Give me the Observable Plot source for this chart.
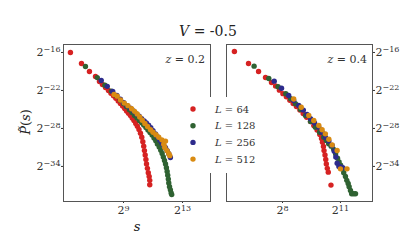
<!DOCTYPE html>
<html><head><meta charset="utf-8">
<script src="https://cdn.jsdelivr.net/npm/d3@7"></script>
<script src="https://cdn.jsdelivr.net/npm/@observablehq/plot@0.6"></script>
<style>
body{margin:0;background:#fff;}
#c{position:relative;width:415px;height:249px;overflow:hidden;}
#c svg{position:absolute;top:0;}
</style></head><body><div id="c"></div>
<script>
// ---- labels, colours, ticks ----
const seriesLabels = ["64","128","256","512"];
const seriesColors = ["#d62222","#2f6232","#2d2b8c","#d98b12"];
const panelLabels = ["0.2","0.4"];
const titleValue = "-0.5";
const yTicks = [-16,-22,-28,-34];
const xTicksLeft = [9,13];
const xTicksRight = [8,11];

// ---- data: [log2 s, log2 P~(s)] ----
// z = 0.2
const z02_L64 = [[5.40,-16.00],[6.15,-17.74],[6.69,-19.00],[7.10,-19.79],[7.37,-20.58],[7.57,-21.06],[7.78,-21.55],[7.98,-22.00],[8.15,-22.45],[8.32,-22.85],[8.48,-23.25],[8.64,-23.65],[8.79,-24.05],[8.94,-24.45],[9.08,-24.85],[9.21,-25.25],[9.34,-25.60],[9.47,-25.95],[9.59,-26.35],[9.71,-26.75],[9.83,-27.20],[9.94,-27.65],[10.05,-28.15],[10.15,-28.75],[10.24,-29.40],[10.31,-30.10],[10.37,-30.80],[10.42,-31.50],[10.47,-32.20],[10.52,-32.90],[10.56,-33.60],[10.62,-34.30],[10.68,-35.00],[10.74,-35.60],[10.78,-36.20],[10.78,-36.90]];
const z02_L128 = [[6.42,-18.21],[7.22,-19.97],[7.74,-21.18],[8.18,-22.10],[8.50,-22.85],[8.79,-23.55],[9.00,-24.05],[9.20,-24.55],[9.40,-25.05],[9.58,-25.50],[9.75,-25.95],[9.92,-26.35],[10.08,-26.75],[10.23,-27.10],[10.37,-27.45],[10.52,-27.85],[10.66,-28.25],[10.80,-28.65],[10.94,-29.05],[11.07,-29.50],[11.19,-29.95],[11.30,-30.45],[11.42,-30.95],[11.53,-31.45],[11.62,-31.95],[11.70,-32.50],[11.78,-33.05],[11.85,-33.60],[11.91,-34.20],[11.96,-34.80],[12.00,-35.40],[12.04,-36.00],[12.07,-36.60],[12.12,-37.20],[12.18,-37.70],[12.23,-38.20],[12.27,-38.45]];
const z02_L256 = [[7.49,-20.42],[7.90,-21.35],[8.27,-22.16],[8.55,-22.80],[8.79,-23.40],[9.02,-23.95],[9.25,-24.40],[9.47,-24.80],[9.68,-25.25],[9.88,-25.70],[10.06,-26.05],[10.23,-26.45],[10.40,-26.80],[10.55,-27.15],[10.70,-27.50],[10.85,-27.90],[11.00,-28.35],[11.17,-28.85],[11.32,-29.35],[11.47,-29.85],[11.60,-30.30],[11.73,-30.70],[11.85,-31.05],[11.96,-31.50],[12.07,-32.00],[12.18,-32.60]];
const z02_L512 = [[8.36,-22.62],[8.57,-22.90],[8.80,-23.50],[9.05,-24.00],[9.30,-24.40],[9.55,-24.90],[9.75,-25.30],[9.93,-25.70],[10.10,-26.20],[10.27,-26.70],[10.45,-27.20],[10.63,-27.70],[10.83,-28.20],[11.00,-28.60],[11.20,-29.00],[11.39,-29.40],[11.60,-29.80],[11.85,-30.00],[11.73,-30.50],[11.80,-31.00],[11.95,-31.50],[12.07,-32.00],[12.14,-32.30]];
// z = 0.4
const z04_L64 = [[5.51,-15.84],[6.24,-17.74],[6.76,-19.00],[7.12,-19.95],[7.43,-20.74],[7.64,-21.30],[7.84,-21.95],[8.02,-22.50],[8.20,-23.00],[8.38,-23.55],[8.55,-24.05],[8.72,-24.55],[8.90,-25.10],[9.07,-25.65],[9.25,-26.25],[9.45,-26.90],[9.62,-27.55],[9.79,-28.25],[9.93,-28.95],[10.02,-29.60],[10.07,-30.20],[10.12,-30.85],[10.15,-31.50],[10.20,-32.20],[10.24,-32.90],[10.27,-33.60],[10.32,-34.30],[10.37,-34.90],[10.51,-36.95]];
const z04_L128 = [[6.53,-18.16],[7.29,-20.10],[7.77,-21.42],[8.17,-22.53],[8.42,-23.30],[8.67,-24.10],[8.93,-25.00],[9.19,-25.95],[9.45,-26.90],[9.70,-27.80],[9.92,-28.60],[10.13,-29.38],[10.27,-29.90],[10.39,-30.42],[10.52,-30.80],[10.65,-31.30],[10.75,-32.00],[10.85,-32.70],[10.93,-33.30],[11.01,-33.80],[11.09,-34.38],[11.17,-35.00],[11.26,-35.60],[11.33,-36.20],[11.40,-36.70],[11.45,-37.20],[11.52,-37.80],[11.58,-38.32],[11.68,-38.32],[11.78,-38.32]];
const z04_L256 = [[7.57,-20.53],[7.95,-21.65],[8.32,-22.79],[8.58,-23.60],[8.84,-24.37],[9.08,-25.10],[9.27,-25.80],[9.45,-26.48],[9.66,-27.15],[9.88,-27.80],[10.05,-28.60],[10.22,-29.38],[10.40,-30.00],[10.57,-30.69],[10.68,-31.60],[10.76,-32.50],[10.83,-33.50],[10.92,-34.00],[11.02,-34.10],[11.12,-34.20]];
const z04_L512 = [[8.58,-23.35],[8.97,-24.65],[9.36,-25.95],[9.62,-26.75],[9.88,-27.53],[10.05,-28.20],[10.22,-28.85],[10.40,-29.70],[10.57,-30.60],[10.83,-31.48],[11.00,-34.38],[11.34,-34.38]];

const NS = "http://www.w3.org/2000/svg";
const FONT = "DejaVu Serif";

function rows(seriesList){
  const out = [];
  seriesList.forEach((pts,i)=>pts.forEach(([x,y])=>out.push({x,y,L:seriesLabels[i]})));
  return out;
}

function supTicks(svg){
  svg.querySelectorAll('g[aria-label$="tick label"] text').forEach(t=>{
    const parts = t.textContent.split("^");
    if(parts.length!==2) return;
    t.textContent = "";
    const a = document.createElementNS(NS,"tspan"); a.textContent = parts[0];
    const b = document.createElementNS(NS,"tspan");
    b.setAttribute("dy","-0.45em"); b.setAttribute("font-size","8");
    b.textContent = parts[1].replace("-","\u2212");
    t.append(a,b);
  });
}

function panel(seriesList, xDomain, xTicks, opt){
  const svg = Plot.plot({
    width: opt.width, height: 249,
    marginLeft: opt.ml, marginRight: opt.mr, marginTop: 44, marginBottom: 48,
    style: {fontFamily: FONT, fontSize: "11px", color: "#333", background: "transparent"},
    x: {domain: xDomain, ticks: xTicks, tickFormat: d=>"2^"+d, tickSize: 2, tickPadding: 3, label: null},
    y: {domain: [-39.54,-14.74], ticks: yTicks, tickFormat: d=>"2^"+d, tickSize: 2, tickPadding: 1, label: null, axis: opt.yaxis},
    color: {domain: seriesLabels, range: seriesColors},
    marks: [
      Plot.frame({stroke: "#555", strokeWidth: 1}),
      Plot.dot(rows(seriesList), {x: "x", y: "y", fill: "L", r: 2.7, stroke: "none"})
    ]
  });
  supTicks(svg);
  svg.style.left = opt.left + "px";
  return svg;
}

const c = document.getElementById("c");
c.append(panel([z02_L64,z02_L128,z02_L256,z02_L512],[4.93,14.9],xTicksLeft,{width:215,ml:63,mr:5,yaxis:"left",left:0}));
c.append(panel([z04_L64,z04_L128,z04_L256,z04_L512],[5.1,12.66],xTicksRight,{width:200,ml:11,mr:43,yaxis:"right",left:215}));

// ---- overlay: titles, labels, legend ----
const ov = d3.select(c).append("svg").attr("width",415).attr("height",249)
  .style("left","0px").style("font-family",FONT).style("fill","#222");

const title = ov.append("text").attr("x",208).attr("y",36).attr("text-anchor","middle").attr("font-size",14);
title.append("tspan").attr("font-style","italic").text("V");
title.append("tspan").text(" = " + titleValue);

[[205,63],[367,63]].forEach(([x,y],i)=>{
  const t = ov.append("text").attr("x",x).attr("y",y).attr("text-anchor","end").attr("font-size",11).style("fill","#333");
  t.append("tspan").attr("font-style","italic").text("z");
  t.append("tspan").text(" = " + panelLabels[i]);
});

const xl = ov.append("text").attr("x",137).attr("y",231).attr("text-anchor","middle").attr("font-size",13).attr("font-style","italic").text("s");
const yl = ov.append("text").attr("transform","translate(30,122) rotate(-90)").attr("text-anchor","middle").attr("font-size",13);
yl.append("tspan").attr("font-style","italic").text("P\u0303");
yl.append("tspan").text("(");
yl.append("tspan").attr("font-style","italic").text("s");
yl.append("tspan").text(")");

const lg = ov.append("g");
lg.append("rect").attr("x",184).attr("y",97).attr("width",76).attr("height",76).attr("fill","#fff");
seriesLabels.forEach((lab,i)=>{
  const cy = 109 + 16.7*i;
  lg.append("circle").attr("cx",193).attr("cy",cy).attr("r",2.7).attr("fill",seriesColors[i]);
  const t = lg.append("text").attr("x",215).attr("y",cy+3.5).attr("font-size",10).style("fill","#333");
  t.append("tspan").attr("font-style","italic").text("L");
  t.append("tspan").text(" = " + lab);
});
</script></body></html>
